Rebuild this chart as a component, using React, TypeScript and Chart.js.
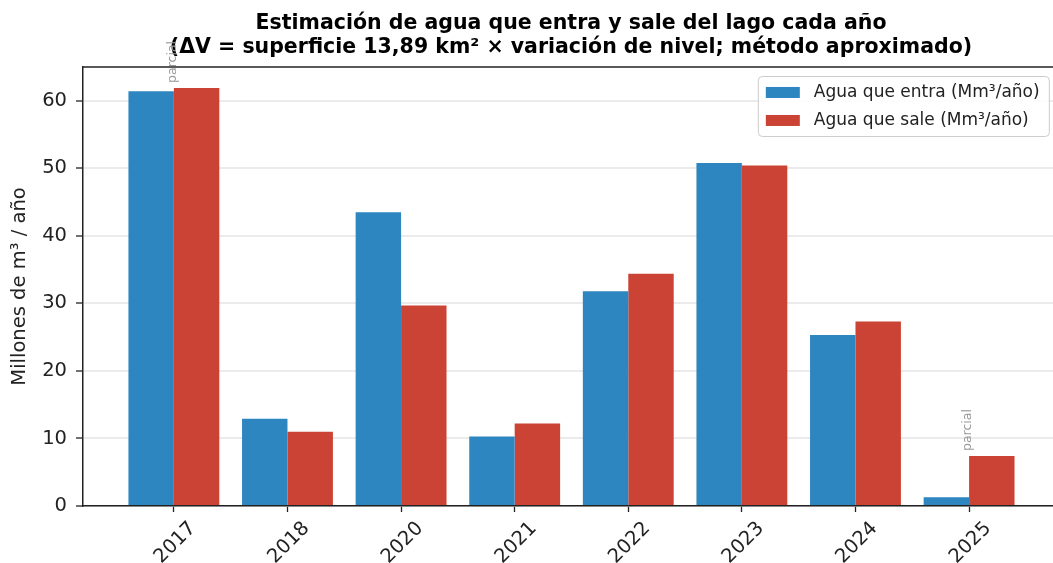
import React, { useEffect, useRef } from "react";
import { Chart, registerables } from "chart.js";

Chart.register(...registerables);

const categories = ["2017", "2018", "2020", "2021", "2022", "2023", "2024", "2025"];
const aguaEntra = [61.4, 12.9, 43.5, 10.3, 31.8, 50.8, 25.3, 1.3];
const aguaSale = [61.9, 11.0, 29.7, 12.2, 34.4, 50.4, 27.3, 7.4];
const partialIdx = [0, 7];
const partialText = "parcial";
const yTicks = [0, 10, 20, 30, 40, 50, 60];
const titleLines = [
  "Estimación de agua que entra y sale del lago cada año",
  "(ΔV = superficie 13,89 km² × variación de nivel; método aproximado)",
];
const yAxisTitle = "Millones de m³ / año";
const seriesLabels = ["Agua que entra (Mm³/año)", "Agua que sale (Mm³/año)"];
const seriesColors = ["#2e86c1", "#cb4335"];

const FONT = "'DejaVu Sans', sans-serif";
const X_MIN = -0.8;
const X_AXES_END = 7.79; // right edge of the axes box (outside the visible picture)
const CANVAS_W = 1142;
const CANVAS_H = 563;

export default function App() {
  const ref = useRef<HTMLCanvasElement | null>(null);

  useEffect(() => {
    const canvas = ref.current;
    if (!canvas) return;

    const topSpine = {
      id: "topSpine",
      afterDraw(chart: any) {
        const { ctx, chartArea } = chart;
        ctx.save();
        ctx.strokeStyle = "#222";
        ctx.lineWidth = 1.5;
        ctx.beginPath();
        ctx.moveTo(chartArea.left - 0.75, chartArea.top);
        ctx.lineTo(chartArea.right, chartArea.top);
        ctx.stroke();
        ctx.restore();
      },
    };

    const partialLabels = {
      id: "partialLabels",
      afterDraw(chart: any) {
        const { ctx } = chart;
        const xs = chart.scales.x;
        const ys = chart.scales.y;
        ctx.save();
        ctx.fillStyle = "#999";
        ctx.font = `12.5px ${FONT}`;
        ctx.textAlign = "left";
        ctx.textBaseline = "middle";
        partialIdx.forEach((i) => {
          const top = Math.max(aguaEntra[i], aguaSale[i]);
          const x = xs.getPixelForValue(i) - 1;
          const y = ys.getPixelForValue(top) - 5;
          ctx.save();
          ctx.translate(x, y);
          ctx.rotate(-Math.PI / 2);
          ctx.fillText(partialText, 0, 0);
          ctx.restore();
        });
        ctx.restore();
      },
    };

    const boxLegend = {
      id: "boxLegend",
      afterDraw(chart: any) {
        const { ctx, chartArea } = chart;
        const axesRight = chart.scales.x.getPixelForValue(X_AXES_END);
        const w = 291;
        const h = 60;
        const left = axesRight - w - 10;
        const top = chartArea.top + 9;
        ctx.save();
        ctx.fillStyle = "rgba(255,255,255,0.9)";
        ctx.strokeStyle = "#cccccc";
        ctx.lineWidth = 1;
        ctx.beginPath();
        (ctx as any).roundRect(left + 0.5, top + 0.5, w, h, 4);
        ctx.fill();
        ctx.stroke();
        ctx.font = `17px ${FONT}`;
        ctx.textAlign = "left";
        ctx.textBaseline = "middle";
        chart.data.datasets.forEach((ds: any, i: number) => {
          const cy = top + 16.5 + i * 28;
          ctx.fillStyle = ds.backgroundColor;
          ctx.fillRect(left + 8, cy - 5.5, 34, 11);
          ctx.fillStyle = "#222";
          ctx.fillText(ds.label, left + 56, cy);
        });
        ctx.restore();
      },
    };

    const chart = new Chart(canvas, {
      type: "bar",
      data: {
        datasets: [
          {
            label: seriesLabels[0],
            data: aguaEntra.map((v, i) => ({ x: i, y: v })),
            backgroundColor: seriesColors[0],
            borderWidth: 0,
            categoryPercentage: 0.8,
            barPercentage: 1.0,
          },
          {
            label: seriesLabels[1],
            data: aguaSale.map((v, i) => ({ x: i, y: v })),
            backgroundColor: seriesColors[1],
            borderWidth: 0,
            categoryPercentage: 0.8,
            barPercentage: 1.0,
          },
        ],
      },
      options: {
        animation: false,
        responsive: false,
        maintainAspectRatio: false,
        layout: { padding: { left: 0, right: 0, top: 0, bottom: 0 } },
        plugins: {
          legend: { display: false },
          tooltip: { enabled: false },
          title: {
            display: true,
            text: titleLines,
            color: "#000",
            font: { family: FONT, size: 20.5, weight: "bold", lineHeight: 1.17 },
            padding: { top: 12, bottom: 7 },
          },
        },
        scales: {
          x: {
            type: "linear",
            offset: false,
            min: X_MIN,
            max: X_MIN + (CANVAS_W - 83) / 113.6,
            afterBuildTicks(scale: any) {
              scale.ticks = categories.map((_, i) => ({ value: i }));
            },
            afterFit(scale: any) {
              scale.height = 57;
            },
            ticks: {
              callback: (_v: any, index: number) => categories[index],
              minRotation: 45,
              maxRotation: 45,
              autoSkip: false,
              labelOffset: 19,
              padding: 5,
              color: "#222",
              font: { family: FONT, size: 19.5 },
            },
            grid: {
              offset: false,
              drawOnChartArea: false,
              drawTicks: true,
              tickLength: 6,
              tickColor: "#222",
              tickWidth: 1.3,
            },
            border: { color: "#222", width: 1.5 },
          },
          y: {
            min: 0,
            max: 65,
            z: 1,
            afterBuildTicks(scale: any) {
              scale.ticks = yTicks.map((v) => ({ value: v }));
            },
            afterFit(scale: any) {
              scale.width = 83;
            },
            ticks: {
              padding: 9,
              color: "#222",
              font: { family: FONT, size: 19.5 },
            },
            grid: {
              color: "rgba(222,222,222,0.6)",
              lineWidth: 2,
              drawTicks: true,
              tickLength: 7,
              tickColor: "#222",
              tickWidth: 1.3,
            },
            border: { color: "#222", width: 1.5 },
            title: {
              display: true,
              text: yAxisTitle,
              color: "#222",
              font: { family: FONT, size: 19.5 },
              padding: { top: 8, bottom: 0 },
            },
          },
        },
      },
      plugins: [topSpine, partialLabels, boxLegend],
    } as any);

    return () => chart.destroy();
  }, []);

  return (
    <div
      style={{
        position: "fixed",
        left: 0,
        top: 0,
        width: 1053,
        height: 563,
        overflow: "hidden",
        background: "#fff",
      }}
    >
      <canvas ref={ref} width={CANVAS_W} height={CANVAS_H} style={{ display: "block" }} />
    </div>
  );
}
